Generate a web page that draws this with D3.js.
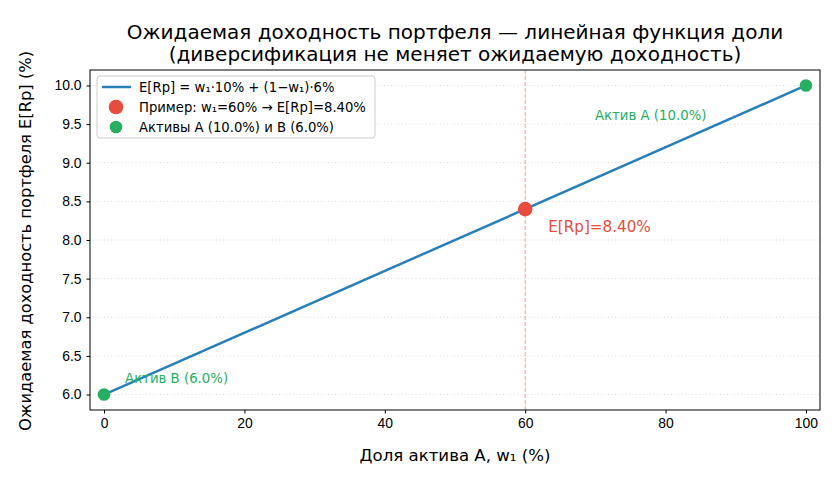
<!DOCTYPE html>
<html lang="ru">
<head>
<meta charset="UTF-8">
<title>Ожидаемая доходность портфеля</title>
<script src="https://cdn.jsdelivr.net/npm/d3@7"></script>
<style>
  body { margin: 0; padding: 0; background: #fff; }
  svg { font-family: "DejaVu Sans", sans-serif; display: block; }
  .tick text { font-size: 13.9px; fill: #000; }
  .tick line { stroke: #000; }
  .domain { stroke: #000; }
</style>
</head>
<body>
<div id="chart"></div>
<script>
// данные
const rA = 10.0;
const rB = 6.0;
const weights = [0, 100];            // доля актива A, %
const returns = [6.0, 10.0];         // E[Rp], %
const example = { w: 60, r: 8.40 };
const assets = [{ w: 0, r: 6.0 }, { w: 100, r: 10.0 }];
const xTicks = [0, 20, 40, 60, 80, 100];
const yTicks = [6.0, 6.5, 7.0, 7.5, 8.0, 8.5, 9.0, 9.5, 10.0];

const W = 840, H = 480;
const margin = { left: 90, right: 20, top: 70, bottom: 70 };

const svg = d3.select("#chart").append("svg")
  .attr("width", W).attr("height", H);

const x = d3.scaleLinear().domain([-2, 102]).range([margin.left, W - margin.right]);
const y = d3.scaleLinear().domain([5.8, 10.2]).range([H - margin.bottom, margin.top]);

// сетка по y
svg.append("g")
  .selectAll("line").data(yTicks).enter().append("line")
  .attr("x1", x.range()[0]).attr("x2", x.range()[1])
  .attr("y1", d => y(d)).attr("y2", d => y(d))
  .attr("stroke", "#b0b0b0").attr("stroke-opacity", 0.6)
  .attr("stroke-width", 0.8).attr("stroke-dasharray", "1,2.5");

// вертикальная линия примера
svg.append("line")
  .attr("x1", x(example.w)).attr("x2", x(example.w))
  .attr("y1", y.range()[1]).attr("y2", y.range()[0])
  .attr("stroke", "#e74c3c").attr("stroke-opacity", 0.55)
  .attr("stroke-width", 1).attr("stroke-dasharray", "4,2");

// линия E[Rp]
const line = d3.line().x(d => x(d[0])).y(d => y(d[1]));
svg.append("path")
  .datum(weights.map((w, i) => [w, returns[i]]))
  .attr("d", line)
  .attr("fill", "none").attr("stroke", "#2980b9").attr("stroke-width", 2.5);

// точки активов
svg.selectAll(".asset").data(assets).enter().append("circle")
  .attr("class", "asset")
  .attr("cx", d => x(d.w)).attr("cy", d => y(d.r)).attr("r", 6.3)
  .attr("fill", "#27ae60");

// точка примера
svg.append("circle")
  .attr("cx", x(example.w)).attr("cy", y(example.r)).attr("r", 7.3)
  .attr("fill", "#e74c3c");

// подписи
svg.append("text")
  .attr("x", x(example.w) + 23).attr("y", y(example.r) + 23)
  .attr("font-size", 15.2).attr("fill", "#e74c3c")
  .text(`E[Rp]=${example.r.toFixed(2)}%`);

svg.append("text")
  .attr("x", x(100) - 211).attr("y", y(rA) + 35)
  .attr("font-size", 13.3).attr("fill", "#27ae60")
  .text(`Актив A (${rA.toFixed(1)}%)`);

svg.append("text")
  .attr("x", x(0) + 21).attr("y", y(rB) - 12)
  .attr("font-size", 13.3).attr("fill", "#27ae60")
  .text(`Актив B (${rB.toFixed(1)}%)`);

// оси
svg.append("g")
  .attr("transform", `translate(0,${H - margin.bottom})`)
  .call(d3.axisBottom(x).tickValues(xTicks).tickSize(3.5).tickPadding(5).tickFormat(d3.format("d")));

svg.append("g")
  .attr("transform", `translate(${margin.left},0)`)
  .call(d3.axisLeft(y).tickValues(yTicks).tickSize(3.5).tickPadding(5).tickFormat(d3.format(".1f")));

svg.selectAll(".domain").remove();
svg.append("rect")
  .attr("x", margin.left).attr("y", margin.top)
  .attr("width", W - margin.left - margin.right)
  .attr("height", H - margin.top - margin.bottom)
  .attr("fill", "none").attr("stroke", "#000").attr("stroke-width", 1);

// заголовок и подписи осей
svg.append("text")
  .attr("x", (margin.left + W - margin.right) / 2).attr("y", 39)
  .attr("text-anchor", "middle").attr("font-size", 20)
  .text("Ожидаемая доходность портфеля — линейная функция доли");
svg.append("text")
  .attr("x", (margin.left + W - margin.right) / 2).attr("y", 61)
  .attr("text-anchor", "middle").attr("font-size", 20)
  .text("(диверсификация не меняет ожидаемую доходность)");

svg.append("text")
  .attr("x", (margin.left + W - margin.right) / 2).attr("y", 461)
  .attr("text-anchor", "middle").attr("font-size", 16.6)
  .text("Доля актива A, w₁ (%)");

svg.append("text")
  .attr("transform", `translate(31,241) rotate(-90)`)
  .attr("text-anchor", "middle").attr("font-size", 16.3)
  .text("Ожидаемая доходность портфеля E[Rp] (%)");

// легенда
const legend = svg.append("g").attr("transform", "translate(97,76)");
legend.append("rect")
  .attr("width", 278).attr("height", 62).attr("rx", 3)
  .attr("fill", "#fff").attr("fill-opacity", 0.8)
  .attr("stroke", "#ccc").attr("stroke-width", 1);
const items = [
  { type: "line", color: "#2980b9", label: "E[Rp] = w₁·10% + (1−w₁)·6%" },
  { type: "dot", color: "#e74c3c", r: 7.3, label: `Пример: w₁=60% → E[Rp]=${example.r.toFixed(2)}%` },
  { type: "dot", color: "#27ae60", r: 6.3, label: `Активы A (${rA.toFixed(1)}%) и B (${rB.toFixed(1)}%)` }
];
items.forEach((it, i) => {
  const cy = 11 + i * 20;
  if (it.type === "line") {
    legend.append("line").attr("x1", 5).attr("x2", 34).attr("y1", cy).attr("y2", cy)
      .attr("stroke", it.color).attr("stroke-width", 2.5);
  } else {
    legend.append("circle").attr("cx", 19).attr("cy", cy).attr("r", it.r).attr("fill", it.color);
  }
  legend.append("text").attr("x", 42).attr("y", cy + 4.5)
    .attr("font-size", 13.2).text(it.label);
});
</script>
</body>
</html>
